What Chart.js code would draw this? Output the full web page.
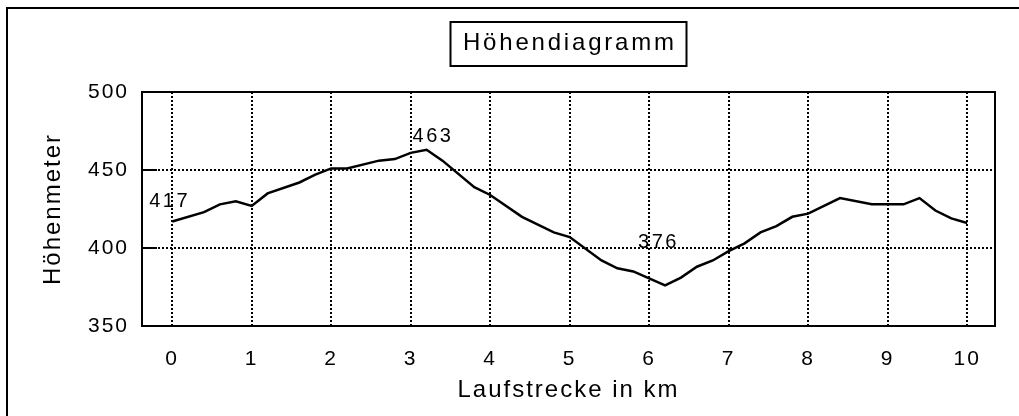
<!DOCTYPE html>
<html>
<head>
<meta charset="utf-8">
<script src="https://cdn.jsdelivr.net/npm/chart.js@4.4.1/dist/chart.umd.min.js"></script>
<style>
  html, body { margin: 0; padding: 0; background: #fff; }
  #wrap { width: 1019px; height: 416px; position: relative; }
</style>
</head>
<body>
<div id="wrap"><canvas id="profile"></canvas></div>
<script>
// distance along the route (km) and height (m)
const distanceKm = [0, 0.4, 0.6, 0.8, 1.0, 1.2, 1.6, 1.8, 2.0, 2.2, 2.6, 2.8, 3.0, 3.2, 3.4, 3.8, 4.0,
                    4.4, 4.8, 5.0, 5.4, 5.6, 5.8, 6.2, 6.4, 6.6, 6.8, 7.0, 7.2, 7.4, 7.6, 7.8, 8.0,
                    8.4, 8.8, 9.0, 9.2, 9.4, 9.6, 9.8, 10.0];
const heightM = [417, 423, 428, 430, 427, 435, 442, 447, 451, 451, 456, 457, 461, 463, 456, 439, 434,
                 420, 410, 407, 392, 387, 385, 376, 381, 388, 392, 398, 403, 410, 414, 420, 422,
                 432, 428, 428, 428, 432, 424, 419, 416];

const xTicks = [0, 1, 2, 3, 4, 5, 6, 7, 8, 9, 10];
const yTicks = [350, 400, 450, 500];

// annotated values
const markKm = [0, 3.2, 6.2];
const markM = [417, 463, 376];
const markText = ['417', '463', '376'];

const chartTitle = 'Höhendiagramm';
const xTitle = 'Laufstrecke in km';
const yTitle = 'Höhenmeter';

const FONT = '"Liberation Sans", Arial, Helvetica, sans-serif';

const spacingPlugin = {
    id: 'spacing',
    beforeLayout(chart) { chart.ctx.letterSpacing = '2px'; },
    beforeDraw(chart) { chart.ctx.letterSpacing = '2px'; }
};

const framePlugin = {
    id: 'frame',
    beforeDraw(chart) {
        const ctx = chart.ctx;
        ctx.save();
        ctx.strokeStyle = '#000';
        ctx.lineWidth = 2;
        ctx.beginPath();
        ctx.moveTo(7, chart.height);
        ctx.lineTo(7, 8);
        ctx.lineTo(chart.width, 8);
        ctx.stroke();

        // title box
        const a = chart.chartArea;
        const cx = (a.left + a.right) / 2;
        ctx.fillStyle = '#fff';
        ctx.fillRect(cx - 118, 22, 236, 44);
        ctx.strokeRect(cx - 118, 22, 236, 44);
        ctx.fillStyle = '#000';
        ctx.font = '24px ' + FONT;
        ctx.letterSpacing = '2.8px';
        ctx.textAlign = 'center';
        ctx.textBaseline = 'alphabetic';
        ctx.fillText(chartTitle, cx + 1.4, 50);
        ctx.restore();
    },
    afterDatasetsDraw(chart) {
        const ctx = chart.ctx;
        const a = chart.chartArea;
        const xs = chart.scales.x, ys = chart.scales.y;
        ctx.save();
        ctx.strokeStyle = '#000';
        ctx.lineWidth = 2;
        ctx.strokeRect(a.left, a.top, a.right - a.left, a.bottom - a.top);

        // short inward ticks on the left edge
        ctx.beginPath();
        yTicks.forEach(v => {
            const y = ys.getPixelForValue(v);
            ctx.moveTo(a.left, y);
            ctx.lineTo(a.left + 15, y);
        });
        ctx.stroke();

        // value labels
        const offsets = [[-23, -14], [-14, -8], [-27, -37]];
        ctx.fillStyle = '#000';
        ctx.font = '20px ' + FONT;
        ctx.letterSpacing = '2.5px';
        ctx.textAlign = 'left';
        ctx.textBaseline = 'alphabetic';
        markText.forEach((t, i) => {
            const px = xs.getPixelForValue(markKm[i]);
            const py = ys.getPixelForValue(markM[i]);
            ctx.fillText(t, px + offsets[i][0], py + offsets[i][1]);
        });
        ctx.restore();
    }
};

const ctx = document.getElementById('profile');
new Chart(ctx, {
    type: 'line',
    data: {
        datasets: [{
            data: distanceKm.map((d, i) => ({ x: d, y: heightM[i] })),
            borderColor: '#000',
            borderWidth: 2.5,
            pointRadius: 0,
            tension: 0,
            fill: false
        }]
    },
    options: {
        responsive: true,
        maintainAspectRatio: false,
        animation: false,
        layout: { padding: { top: 92, right: 24, left: 0, bottom: 0 } },
        plugins: {
            legend: { display: false },
            title: { display: false },
            tooltip: { enabled: false }
        },
        scales: {
            x: {
                type: 'linear',
                min: -0.38,
                max: 10.35,
                afterBuildTicks: s => { s.ticks = xTicks.map(v => ({ value: v })); },
                afterFit: s => { s.height = 90; },
                grid: { color: '#000', lineWidth: 2, drawTicks: false },
                border: { display: false, dash: [2, 2] },
                ticks: {
                    color: '#000',
                    font: { family: FONT, size: 21 },
                    padding: 21,
                    maxRotation: 0,
                    autoSkip: false
                },
                title: {
                    display: true,
                    text: xTitle,
                    color: '#000',
                    font: { family: FONT, size: 24 },
                    padding: { top: 0, bottom: 11 }
                }
            },
            y: {
                min: 350,
                max: 500,
                afterBuildTicks: s => { s.ticks = yTicks.map(v => ({ value: v })); },
                afterFit: s => { s.width = 142; },
                grid: { color: '#000', lineWidth: 2, drawTicks: false },
                border: { display: false, dash: [2, 2] },
                ticks: {
                    color: '#000',
                    font: { family: FONT, size: 21 },
                    padding: 13
                },
                title: {
                    display: true,
                    text: yTitle,
                    color: '#000',
                    font: { family: FONT, size: 24 },
                    padding: { top: 39, bottom: 0 }
                }
            }
        }
    },
    plugins: [spacingPlugin, framePlugin]
});
</script>
</body>
</html>
